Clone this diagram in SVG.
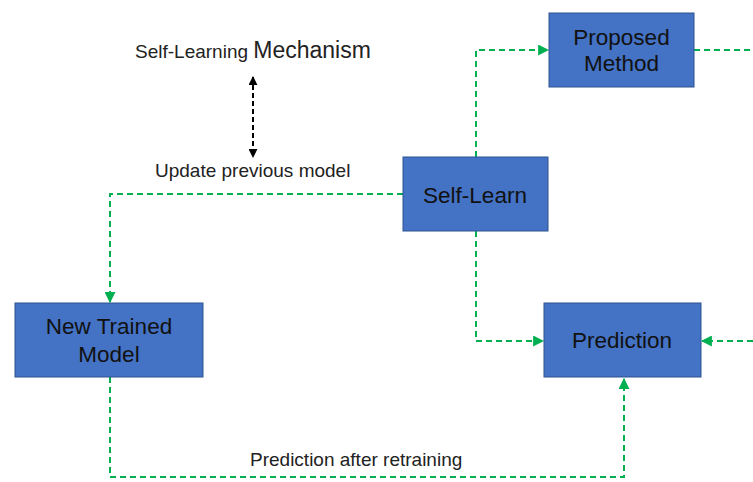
<svg xmlns="http://www.w3.org/2000/svg" width="753" height="482" viewBox="0 0 753 482">
  <style>
    .box { fill: #4472C4; stroke: #2F528F; stroke-width: 1; }
    .lbl { font-family: "Liberation Sans", Arial, sans-serif; font-size: 22.5px; fill: #111; text-anchor: middle; }
    .note { font-family: "Liberation Sans", Arial, sans-serif; font-size: 19px; fill: #222; }
    .flow { fill: none; stroke: #00B050; stroke-width: 2; stroke-dasharray: 6 4; }
    .link { fill: none; stroke: #000; stroke-width: 2; stroke-dasharray: 5 3; }
  </style>
  <defs>
    <marker id="gArrow" viewBox="0 0 10 10" refX="9" refY="5" markerWidth="5.5" markerHeight="5.5" orient="auto">
      <path d="M0,0 L10,5 L0,10 z" fill="#00B050"/>
    </marker>
    <marker id="kArrow" viewBox="0 0 10 10" refX="9" refY="5" markerWidth="4.5" markerHeight="4.5" orient="auto-start-reverse">
      <path d="M0,0 L10,5 L0,10 z" fill="#000"/>
    </marker>
  </defs>
  <rect width="753" height="482" fill="#fff"/>

  <g id="connectors">
    <!-- Self-Learn to Proposed Method -->
    <path class="flow" d="M476,157 V50 H548" marker-end="url(#gArrow)"/>
    <!-- Proposed Method leaving right edge -->
    <path class="flow" d="M694,50 H753"/>
    <!-- Self-Learn to New Trained Model -->
    <path class="flow" d="M403,194 H110 V302" marker-end="url(#gArrow)"/>
    <!-- Self-Learn to Prediction -->
    <path class="flow" d="M476,231 V341 H543" marker-end="url(#gArrow)"/>
    <!-- Incoming from right into Prediction -->
    <path class="flow" d="M753,341 H702" marker-end="url(#gArrow)"/>
    <!-- New Trained Model to Prediction (after retraining) -->
    <path class="flow" d="M110,377 V477 H624 V379" marker-end="url(#gArrow)"/>
    <!-- Mechanism link -->
    <path class="link" d="M253,77 V157" marker-start="url(#kArrow)" marker-end="url(#kArrow)"/>
  </g>

  <g id="proposed-method">
    <rect class="box" x="549" y="13" width="145" height="74"/>
    <text class="lbl" x="621.5" y="45">Proposed</text>
    <text class="lbl" x="621.5" y="71">Method</text>
  </g>

  <g id="self-learn">
    <rect class="box" x="403" y="157" width="145" height="74"/>
    <text class="lbl" x="475" y="203">Self-Learn</text>
  </g>

  <g id="new-trained-model">
    <rect class="box" x="15" y="303" width="188" height="74"/>
    <text class="lbl" x="109" y="334">New Trained</text>
    <text class="lbl" x="109" y="362">Model</text>
  </g>

  <g id="prediction">
    <rect class="box" x="544" y="303" width="157" height="74"/>
    <text class="lbl" x="622" y="348">Prediction</text>
  </g>

  <g id="labels">
    <text class="note" x="135" y="58">Self-Learning <tspan font-size="23">Mechanism</tspan></text>
    <text class="note" x="155" y="177">Update previous model</text>
    <text class="note" x="250" y="466">Prediction after retraining</text>
  </g>
</svg>
